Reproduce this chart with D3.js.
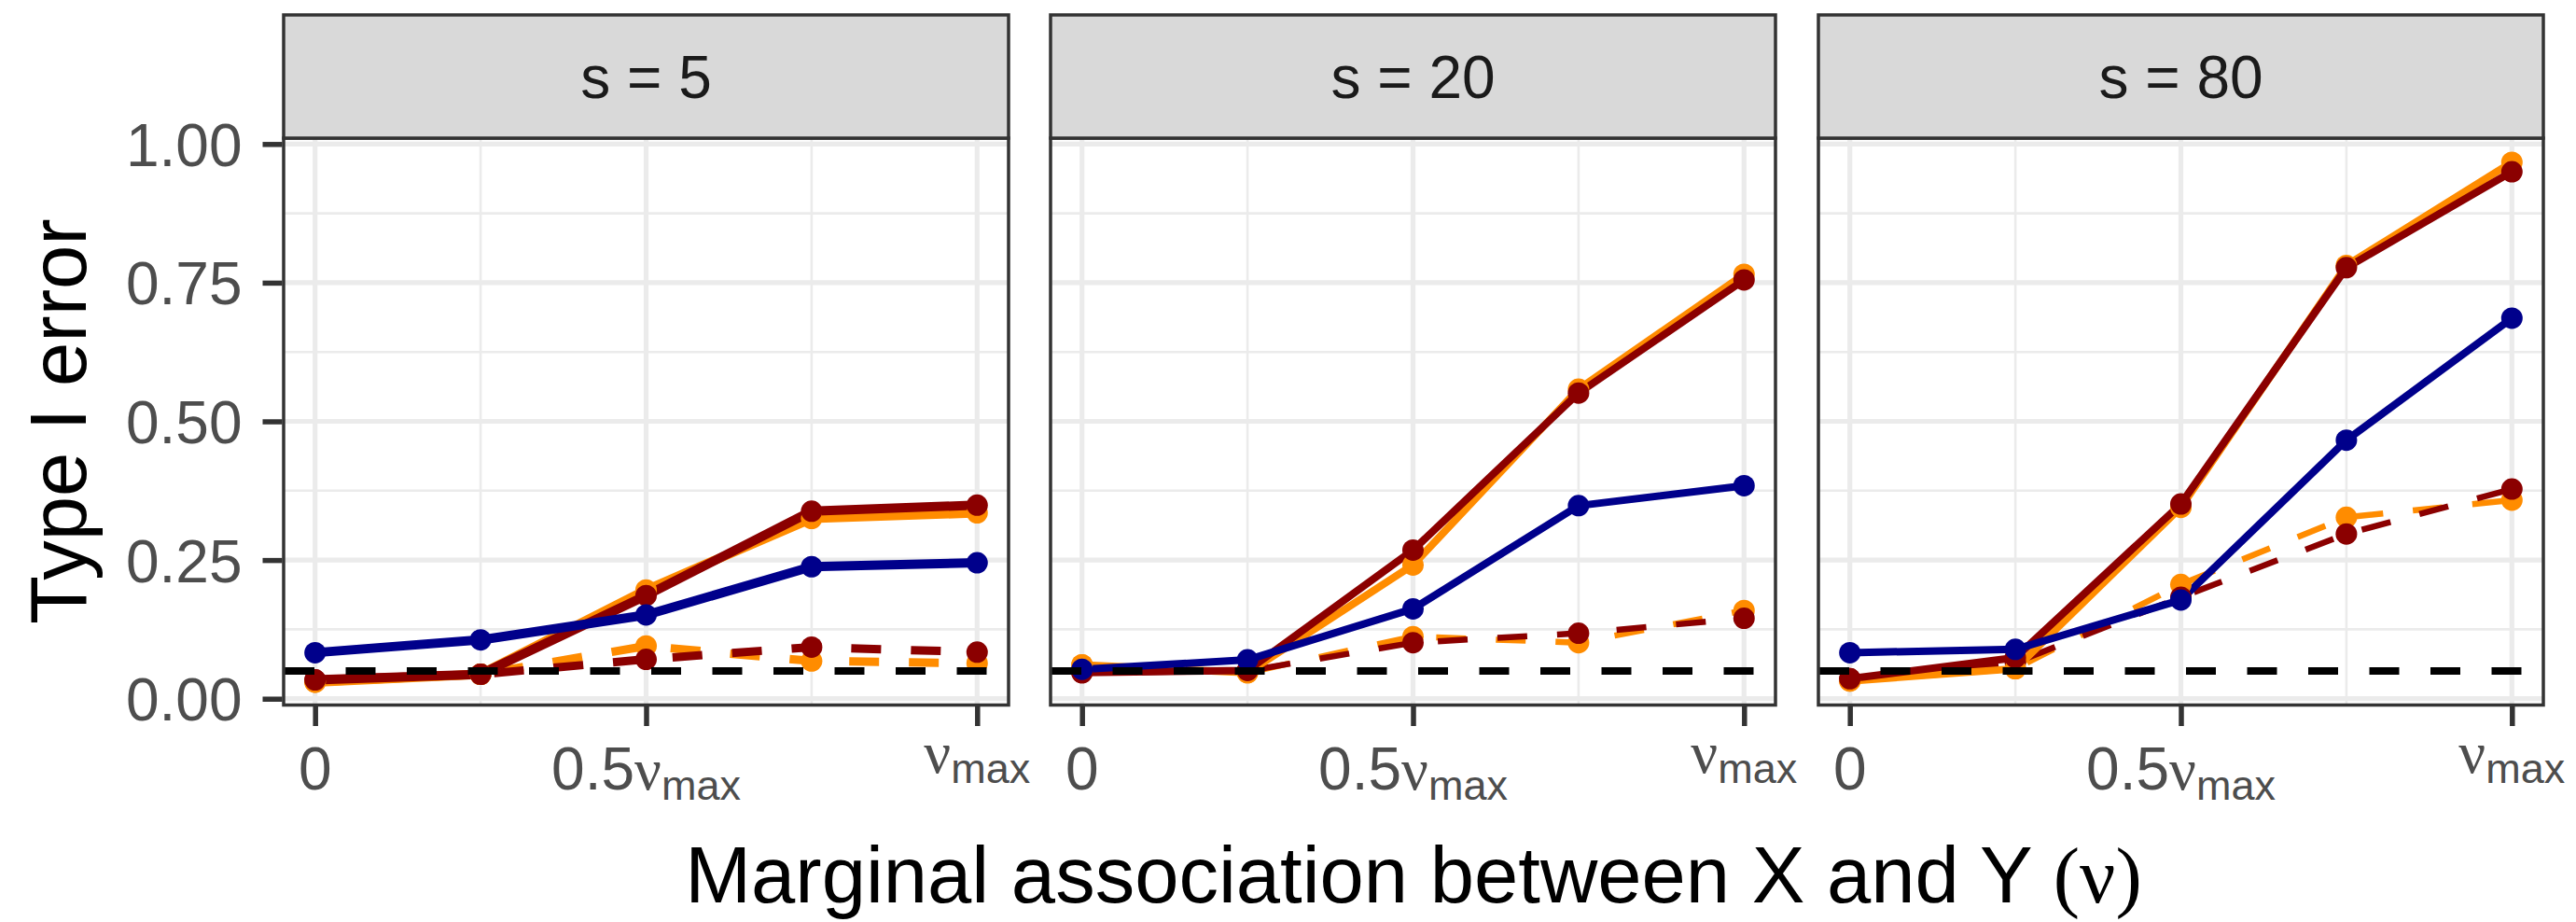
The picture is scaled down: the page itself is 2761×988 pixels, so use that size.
<!DOCTYPE html>
<html>
<head>
<meta charset="utf-8">
<script src="https://cdn.jsdelivr.net/npm/d3@7"></script>
<style>
  html, body { margin: 0; padding: 0; background: #ffffff; }
  svg { display: block; }
</style>
</head>
<body>
<svg id="chart" width="2761" height="988"></svg>
<script>
// ---- data ----
const nuLevels = [0, 0.25, 0.5, 0.75, 1];
const facetLabels = ["s = 5", "s = 20", "s = 80"];
const yTicks = [0, 0.25, 0.5, 0.75, 1];
const yTickLabels = ["0.00", "0.25", "0.50", "0.75", "1.00"];
const yMinor = [0.125, 0.375, 0.625, 0.875];
const xTicks = [0, 0.5, 1];
const xMinor = [0.25, 0.75];
const xTickLabels = [
  { lead: "0", nu: false },
  { lead: "0.5", nu: true },
  { lead: "", nu: true }
];
const nominalLevel = 0.05;

// Type I error per facet (rows) and nu level (columns)
const orangeSolid = [
  [0.030, 0.044, 0.196, 0.325, 0.335],
  [0.061, 0.047, 0.241, 0.558, 0.765],
  [0.032, 0.054, 0.345, 0.781, 0.967]
];
const darkredSolid = [
  [0.034, 0.044, 0.186, 0.338, 0.349],
  [0.047, 0.051, 0.268, 0.551, 0.755],
  [0.036, 0.074, 0.351, 0.777, 0.950]
];
const navySolid = [
  [0.083, 0.106, 0.151, 0.238, 0.245],
  [0.053, 0.070, 0.162, 0.348, 0.384],
  [0.083, 0.089, 0.178, 0.466, 0.686]
];
const orangeDashed = [
  [0.030, 0.044, 0.095, 0.068, 0.064],
  [0.061, 0.047, 0.112, 0.101, 0.159],
  [0.032, 0.054, 0.206, 0.327, 0.358]
];
const darkredDashed = [
  [0.034, 0.044, 0.071, 0.093, 0.084],
  [0.047, 0.050, 0.101, 0.118, 0.145],
  [0.036, 0.065, 0.183, 0.297, 0.378]
];

// drawing order: dashed first, then solid; navy last
const seriesList = [
  { values: orangeDashed, color: "#FF8C00", dashed: true },
  { values: darkredDashed, color: "#8B0000", dashed: true },
  { values: orangeSolid, color: "#FF8C00", dashed: false },
  { values: darkredSolid, color: "#8B0000", dashed: false },
  { values: navySolid, color: "#00008B", dashed: false }
];

// ---- layout ----
const panelLefts = [304, 1126, 1949];
const panelW = 777;
const stripTop = 16;
const panelTop = 148;
const panelBottom = 755.5;
const solidWidth = [10, 8, 8];
const dashedWidth = [9, 6.5, 6.5];
const sans = "'Liberation Sans', Arial, Helvetica, sans-serif";
const serif = "'Liberation Serif', 'DejaVu Serif', serif";

const svg = d3.select("#chart");
svg.append("rect").attr("width", 2761).attr("height", 988).attr("fill", "#ffffff");

const y = d3.scaleLinear().domain([-0.0114, 1.0106]).range([panelBottom, panelTop]);

facetLabels.forEach((label, fi) => {
  const left = panelLefts[fi];
  const x = d3.scaleLinear().domain([-0.0475, 1.0475]).range([left, left + panelW]);
  const g = svg.append("g");

  // clip for panel contents
  const clipId = "clip" + fi;
  svg.append("clipPath").attr("id", clipId)
    .append("rect").attr("x", left).attr("y", panelTop)
    .attr("width", panelW).attr("height", panelBottom - panelTop);

  const inner = g.append("g").attr("clip-path", `url(#${clipId})`);

  // grid
  inner.selectAll(".ymin").data(yMinor).join("line")
    .attr("x1", left).attr("x2", left + panelW)
    .attr("y1", d => y(d)).attr("y2", d => y(d))
    .attr("stroke", "#EBEBEB").attr("stroke-width", 2.6);
  inner.selectAll(".xmin").data(xMinor).join("line")
    .attr("y1", panelTop).attr("y2", panelBottom)
    .attr("x1", d => x(d)).attr("x2", d => x(d))
    .attr("stroke", "#EBEBEB").attr("stroke-width", 2.6);
  inner.selectAll(".ymaj").data(yTicks).join("line")
    .attr("x1", left).attr("x2", left + panelW)
    .attr("y1", d => y(d)).attr("y2", d => y(d))
    .attr("stroke", "#EBEBEB").attr("stroke-width", 5.2);
  inner.selectAll(".xmaj").data(xTicks).join("line")
    .attr("y1", panelTop).attr("y2", panelBottom)
    .attr("x1", d => x(d)).attr("x2", d => x(d))
    .attr("stroke", "#EBEBEB").attr("stroke-width", 5.2);

  // lines
  const line = d3.line().x((d, i) => x(nuLevels[i])).y(d => y(d));
  seriesList.forEach(s => {
    inner.append("path")
      .attr("d", line(s.values[fi]))
      .attr("fill", "none")
      .attr("stroke", s.color)
      .attr("stroke-width", s.dashed ? dashedWidth[fi] : solidWidth[fi])
      .attr("stroke-linejoin", "round")
      .attr("stroke-dasharray", s.dashed ? "32,32" : null);
  });
  // points
  seriesList.forEach(s => {
    inner.selectAll(null).data(s.values[fi]).join("circle")
      .attr("cx", (d, i) => x(nuLevels[i]))
      .attr("cy", d => y(d))
      .attr("r", 11.5)
      .attr("fill", s.color);
  });

  // nominal level reference
  inner.append("line")
    .attr("x1", left).attr("x2", left + panelW)
    .attr("y1", y(nominalLevel)).attr("y2", y(nominalLevel))
    .attr("stroke", "#000000").attr("stroke-width", 8)
    .attr("stroke-dasharray", "32,33.5")
    .attr("stroke-dashoffset", -1);

  // panel border
  g.append("rect")
    .attr("x", left).attr("y", panelTop)
    .attr("width", panelW).attr("height", panelBottom - panelTop)
    .attr("fill", "none").attr("stroke", "#333333").attr("stroke-width", 3.5);

  // strip
  g.append("rect")
    .attr("x", left).attr("y", stripTop)
    .attr("width", panelW).attr("height", panelTop - stripTop)
    .attr("fill", "#D9D9D9").attr("stroke", "#333333").attr("stroke-width", 3.5);
  g.append("text")
    .attr("x", left + panelW / 2).attr("y", 105)
    .attr("text-anchor", "middle")
    .attr("font-family", sans).attr("font-size", 64)
    .attr("fill", "#1A1A1A")
    .text(label);

  // x axis
  const xAxis = d3.axisBottom(x).tickValues(xTicks).tickSize(21).tickSizeOuter(0).tickFormat("");
  const xa = g.append("g").attr("transform", `translate(0,${panelBottom + 1.5})`).call(xAxis);
  xa.select(".domain").remove();
  xa.selectAll(".tick line").attr("stroke", "#333333").attr("stroke-width", 5.5);

  xTicks.forEach((t, i) => {
    const spec = xTickLabels[i];
    const baseY = spec.lead === "" ? 828 : 846;
    const txt = g.append("text")
      .attr("x", x(t)).attr("y", baseY)
      .attr("text-anchor", "middle")
      .attr("font-family", sans).attr("font-size", 64)
      .attr("fill", "#4D4D4D");
    if (spec.lead) txt.append("tspan").text(spec.lead);
    if (spec.nu) {
      txt.append("tspan").attr("font-family", serif).text("ν");
      txt.append("tspan").attr("font-size", 45).attr("dy", 11).text("max");
    }
  });

  // y axis (first facet only)
  if (fi === 0) {
    const yAxis = d3.axisLeft(y).tickValues(yTicks).tickSize(21).tickSizeOuter(0)
      .tickFormat((d, i) => yTickLabels[i]).tickPadding(22);
    const ya = g.append("g").attr("transform", `translate(${left - 1.5},0)`).call(yAxis);
    ya.select(".domain").remove();
    ya.selectAll(".tick line").attr("stroke", "#333333").attr("stroke-width", 5.5);
    ya.selectAll(".tick text")
      .attr("font-family", sans).attr("font-size", 64)
      .attr("fill", "#4D4D4D").attr("dy", "0.36em");
  }
});

// axis titles
svg.append("text")
  .attr("transform", `translate(92,${(panelTop + panelBottom) / 2}) rotate(-90)`)
  .attr("text-anchor", "middle")
  .attr("font-family", sans).attr("font-size", 85)
  .attr("fill", "#000000")
  .text("Type I error");

const xt = svg.append("text")
  .attr("x", (panelLefts[0] + panelLefts[2] + panelW) / 2).attr("y", 967)
  .attr("text-anchor", "middle")
  .attr("font-family", sans).attr("font-size", 85)
  .attr("fill", "#000000");
xt.append("tspan").text("Marginal association between X and Y ");
xt.append("tspan").attr("font-family", serif).text("(ν)");
</script>
</body>
</html>
